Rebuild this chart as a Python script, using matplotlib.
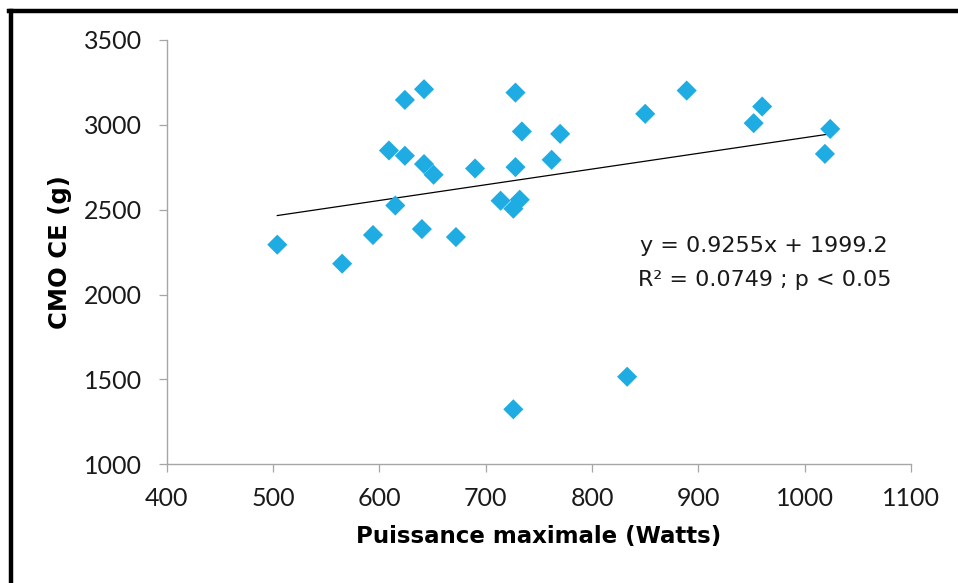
import numpy as np
import matplotlib.pyplot as plt
from matplotlib.lines import Line2D

plt.rcParams['font.family'] = ['Lato', 'DejaVu Sans']

# Puissance maximale (Watts)
puissance = [504, 565, 594, 615, 609, 624, 624, 642, 642, 651,
             640, 672, 690, 714, 726, 732, 728, 728, 734, 762,
             770, 850, 889, 960, 952, 1024, 1019, 726, 833]
# CMO CE (g)
cmo = [2294, 2182, 2351, 2525, 2849, 2818, 3147, 3210, 2769, 2706,
       2386, 2339, 2743, 2553, 2506, 2559, 3190, 2751, 2961, 2794,
       2947, 3065, 3202, 3108, 3010, 2976, 2829, 1324, 1516]

# trend line given on the chart
slope = 0.9255
intercept = 1999.2
eq_text = 'y = 0.9255x + 1999.2'
r2_text = 'R² = 0.0749 ; p < 0.05'

x_ticks = [400, 500, 600, 700, 800, 900, 1000, 1100]
y_ticks = [1000, 1500, 2000, 2500, 3000, 3500]

fig = plt.figure(figsize=(9.58, 5.83), dpi=100)
ax = fig.add_axes([0.174, 0.2036, 0.777, 0.7278])

ax.scatter(puissance, cmo, marker='D', s=105, color='#1EACE2', edgecolors='none', zorder=3)

x_line = np.array([min(puissance), max(puissance)])
ax.plot(x_line, slope * x_line + intercept, color='black', lw=0.9, zorder=2)

ax.set_xlim(400, 1100)
ax.set_ylim(1000, 3500)
ax.set_xticks(x_ticks)
ax.set_yticks(y_ticks)

for side in ['top', 'right']:
    ax.spines[side].set_visible(False)
for side in ['left', 'bottom']:
    ax.spines[side].set_color('#A6A6A6')
    ax.spines[side].set_linewidth(1.0)

ax.tick_params(axis='both', direction='out', length=5.5, width=0.9, color='#A6A6A6',
               labelsize=18, labelcolor='#1a1a1a')
ax.tick_params(axis='y', pad=12.5)
ax.tick_params(axis='x', pad=11)

ax.set_xlabel('Puissance maximale (Watts)', fontsize=16.5, fontweight='bold',
              family=['DejaVu Sans'], labelpad=11)
ax.set_ylabel('CMO CE (g)', fontsize=17.5, fontweight='bold',
              family=['DejaVu Sans'], labelpad=8)

ax.text(0.8016, 0.4997, eq_text, transform=ax.transAxes, ha='center', va='baseline',
        fontsize=16, family=['DejaVu Sans'], color='#1a1a1a')
ax.text(0.803, 0.421, r2_text, transform=ax.transAxes, ha='center', va='baseline',
        fontsize=16, family=['DejaVu Sans'], color='#1a1a1a')

# frame of the cropped chart area (left and top edges only)
fig.add_artist(Line2D([0.011, 0.011], [0.0, 0.981], transform=fig.transFigure, color='black', lw=3.2))
fig.add_artist(Line2D([0.0095, 1.0], [0.981, 0.981], transform=fig.transFigure, color='black', lw=3.2))

plt.savefig('out.png', dpi=100)
